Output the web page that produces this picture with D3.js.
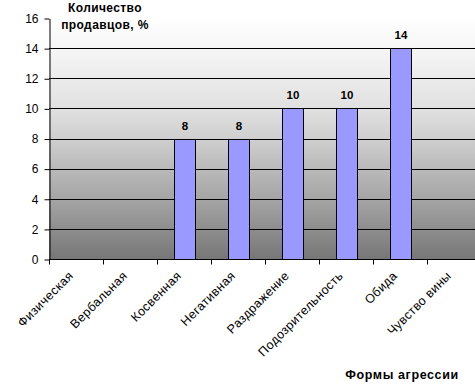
<!DOCTYPE html>
<html>
<head>
<meta charset="utf-8">
<script src="https://cdn.jsdelivr.net/npm/d3@7"></script>
<style>
  body { margin: 0; background: #fff; }
  svg text { font-family: "Liberation Sans", Arial, sans-serif; }
</style>
</head>
<body>
<div id="app"></div>
<script>
// data
const categories = ["Физическая", "Вербальная", "Косвенная", "Негативная",
    "Раздражение", "Подозрительность", "Обида", "Чувство вины"];
const values = [0, 0, 8, 8, 10, 10, 14, 0];
const yTicks = [0, 2, 4, 6, 8, 10, 12, 14, 16];

const W = 475, H = 390;
const plotLeft = 49, plotTop = 18, plotBottom = 259, plotRight = 481;

let svg = d3.select("#app")
    .append("svg")
        .attr("width", W)
        .attr("height", H);

// background gradient of the plot area
let grad = svg.append("defs").append("linearGradient")
    .attr("id", "bg")
    .attr("x1", 0).attr("y1", 0).attr("x2", 0).attr("y2", 1);
grad.append("stop").attr("offset", "0%").attr("stop-color", "#ffffff");
grad.append("stop").attr("offset", "15%").attr("stop-color", "#f4f4f4");
grad.append("stop").attr("offset", "38%").attr("stop-color", "#e0e0e0");
grad.append("stop").attr("offset", "50%").attr("stop-color", "#cfcfcf");
grad.append("stop").attr("offset", "75%").attr("stop-color", "#a5a5a5");
grad.append("stop").attr("offset", "100%").attr("stop-color", "#777777");

let x = d3.scaleBand()
    .domain(categories)
    .range([plotLeft, plotRight]);

let y = d3.scaleLinear()
    .domain([0, 16])
    .range([plotBottom, plotTop]);

svg.append("rect")
    .attr("x", plotLeft)
    .attr("y", plotTop)
    .attr("width", plotRight - plotLeft)
    .attr("height", plotBottom - plotTop)
    .attr("fill", "url(#bg)");

// gridlines (none at the top)
svg.append("g").selectAll("line")
    .data(yTicks.filter(d => d > 0 && d < 16))
    .enter()
    .append("line")
        .attr("x1", plotLeft)
        .attr("x2", plotRight)
        .attr("y1", d => Math.round(y(d)) + 0.5)
        .attr("y2", d => Math.round(y(d)) + 0.5)
        .attr("stroke", "#000")
        .attr("stroke-width", 1);

// bars
const barW = 21;
const barData = categories.map((c, i) => ({cat: c, value: values[i]})).filter(d => d.value > 0);
svg.append("g").selectAll("rect")
    .data(barData)
    .enter()
    .append("rect")
        .attr("x", d => Math.round(x(d.cat) + x.bandwidth() / 2 - barW / 2) + 0.5)
        .attr("y", d => Math.round(y(d.value)) + 0.5)
        .attr("width", barW)
        .attr("height", d => Math.round(y(0)) - Math.round(y(d.value)))
        .attr("fill", "#9999ff")
        .attr("stroke", "#000")
        .attr("stroke-width", 1);

// value labels
svg.append("g").selectAll("text")
    .data(barData)
    .enter()
    .append("text")
        .attr("x", d => x(d.cat) + x.bandwidth() / 2 + 1)
        .attr("y", d => y(d.value) - 9)
        .attr("text-anchor", "middle")
        .attr("font-size", "11.5px")
        .attr("font-weight", "bold")
        .text(d => d.value);

// y axis
let yAxis = svg.append("g")
    .attr("transform", "translate(" + (plotLeft + 0.5) + ",0.5)")
    .call(d3.axisLeft(y).tickValues(yTicks).tickSize(5).tickPadding(6).tickSizeOuter(0));
yAxis.select(".domain").attr("stroke", "#000");
yAxis.selectAll("text").attr("font-size", "12px").attr("fill", "#000")
    .attr("font-family", "Liberation Sans, Arial, sans-serif");

// x axis
let xAxis = svg.append("g")
    .attr("transform", "translate(0," + (plotBottom + 0.5) + ")");
xAxis.append("line")
    .attr("x1", plotLeft).attr("x2", plotRight)
    .attr("stroke", "#000");
xAxis.selectAll(".tk")
    .data(categories)
    .enter()
    .append("line")
        .attr("x1", d => Math.round(x(d)) + 0.5)
        .attr("x2", d => Math.round(x(d)) + 0.5)
        .attr("y1", 0).attr("y2", 5)
        .attr("stroke", "#000");
xAxis.selectAll(".lbl")
    .data(categories)
    .enter()
    .append("text")
        .attr("transform", d => "translate(" + (x(d) + x.bandwidth() / 2 - 2) + ",17) rotate(-45)")
        .attr("text-anchor", "end")
        .attr("font-size", "12.5px")
        .attr("letter-spacing", "0.4px")
        .text(d => d);

// axis titles
svg.append("text")
    .attr("x", 105).attr("y", 12)
    .attr("text-anchor", "middle")
    .attr("font-size", "12px").attr("font-weight", "bold")
    .attr("letter-spacing", "0.4px")
    .text("Количество");
svg.append("text")
    .attr("x", 105).attr("y", 29)
    .attr("text-anchor", "middle")
    .attr("font-size", "12px").attr("font-weight", "bold")
    .attr("letter-spacing", "0.4px")
    .text("продавцов, %");
svg.append("text")
    .attr("x", 402).attr("y", 379)
    .attr("text-anchor", "middle")
    .attr("font-size", "12.5px").attr("font-weight", "bold")
    .attr("letter-spacing", "0.6px")
    .text("Формы агрессии");
</script>
</body>
</html>
